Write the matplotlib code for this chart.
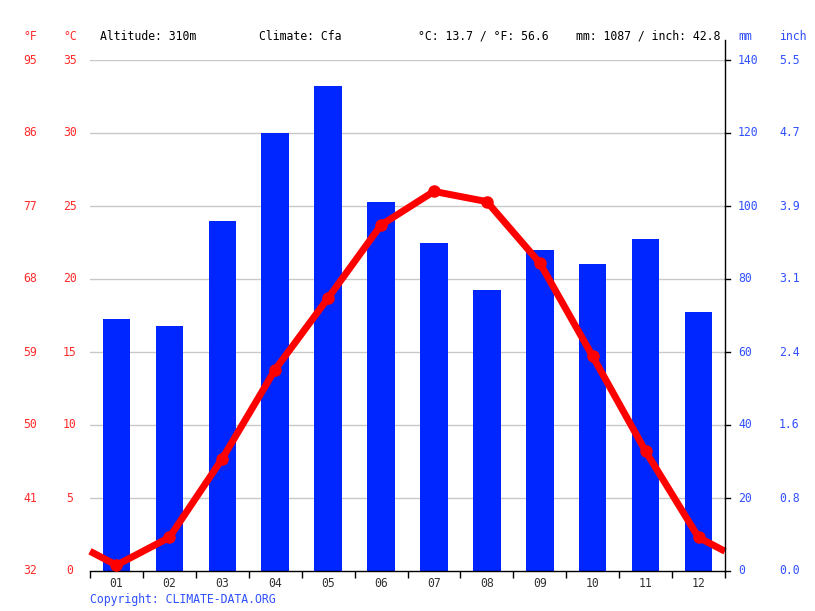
# Climate chart: precipitation bars + temperature line

import matplotlib.pyplot as plt
import numpy as np

months = ['01', '02', '03', '04', '05', '06', '07', '08', '09', '10', '11', '12']
precip_mm = [69, 67, 96, 120, 133, 101, 90, 77, 88, 84, 91, 71]
temp_c = [0.4, 2.3, 7.7, 13.8, 18.7, 23.7, 26.0, 25.3, 21.1, 14.7, 8.2, 2.3]

c_ticks = [0, 5, 10, 15, 20, 25, 30, 35]
f_labels = ['32', '41', '50', '59', '68', '77', '86', '95']
mm_ticks = [0, 20, 40, 60, 80, 100, 120, 140]
inch_labels = ['0.0', '0.8', '1.6', '2.4', '3.1', '3.9', '4.7', '5.5']

header = [(100, 'Altitude: 310m'), (259, 'Climate: Cfa'),
          (418, '°C: 13.7 / °F: 56.6'), (576, 'mm: 1087 / inch: 42.8')]

RED = '#ff0000'
LRED = '#ff2a2a'
BLUE = '#0026ff'
LBLUE = '#3050ff'
FONT = 'DejaVu Sans Mono'
FS = 8.3

W, H = 815, 611
fig = plt.figure(figsize=(W / 100, H / 100), dpi=100)
L, R, B, T = 90, 725, 571, 60
ax = fig.add_axes([L / W, (H - B) / H, (R - L) / W, (B - T) / H])

x = np.arange(12)
ax.set_xlim(-0.5, 11.5)
ax.set_ylim(0, 140)
for v in mm_ticks[1:]:
    ax.axhline(v, color='#c8c8c8', lw=1, zorder=0)
ax.bar(x, precip_mm, width=0.52, color=BLUE, zorder=2)

ax2 = ax.twinx()
ax2.set_ylim(0, 35)
# line runs past the edges using midpoint with neighbouring year months
edge = (temp_c[0] + temp_c[-1]) / 2
tx = np.concatenate([[-0.5], x, [11.5]])
ty = np.concatenate([[edge], temp_c, [edge]])
ax2.plot(tx, ty, color=RED, lw=5, solid_capstyle='butt', clip_on=False, zorder=3)
ax2.plot(x, temp_c, 'o', color=RED, ms=8, zorder=4)

for a in (ax, ax2):
    for s in ('left', 'top', 'right'):
        a.spines[s].set_visible(False)
    a.set_yticks([])
ax2.spines['bottom'].set_visible(False)
ax.spines['bottom'].set_linewidth(1)

ax.set_xticks(np.arange(-0.5, 12, 1), minor=False)
ax.set_xticklabels([])
ax.tick_params(axis='x', length=5, width=1, color='black')
ax.set_xticks(x, minor=True)
ax.set_xticklabels(months, minor=True, fontfamily=FONT, fontsize=FS, color='#333333')
ax.tick_params(axis='x', which='minor', length=0, pad=4)

# right spine reaching above plot area
fig.add_artist(plt.Line2D([R / W, R / W], [(H - B) / H, (H - 40) / H], color='black', lw=1))

def px(xp, yp):
    return xp / W, (H - yp) / H

for c, f in zip(c_ticks, f_labels):
    y = B - c * (B - T) / 35
    fig.text(*px(30, y), f, ha='center', va='center', fontfamily=FONT, fontsize=FS, color=LRED)
    fig.text(*px(70, y), str(c), ha='center', va='center', fontfamily=FONT, fontsize=FS, color=LRED)

for m, inch in zip(mm_ticks, inch_labels):
    y = B - m * (B - T) / 140
    fig.text(*px(738, y), str(m), ha='left', va='center', fontfamily=FONT, fontsize=FS, color=LBLUE)
    fig.text(*px(779, y), inch, ha='left', va='center', fontfamily=FONT, fontsize=FS, color=LBLUE)
    fig.add_artist(plt.Line2D([R / W, (R + 5) / W], [(H - y) / H] * 2, color='black', lw=1))

fig.text(*px(30, 36), '°F', ha='center', va='center', fontfamily=FONT, fontsize=FS, color=LRED)
fig.text(*px(70, 36), '°C', ha='center', va='center', fontfamily=FONT, fontsize=FS, color=LRED)
fig.text(*px(738, 36), 'mm', ha='left', va='center', fontfamily=FONT, fontsize=FS, color=LBLUE)
fig.text(*px(779, 36), 'inch', ha='left', va='center', fontfamily=FONT, fontsize=FS, color=LBLUE)
for hx, s in header:
    fig.text(*px(hx, 36), s, ha='left', va='center', fontfamily=FONT, fontsize=FS, color='black')

fig.text(*px(90, 599), 'Copyright: CLIMATE-DATA.ORG', ha='left', va='center',
         fontfamily=FONT, fontsize=FS, color=LBLUE)

fig.savefig('out.png', dpi=100)
